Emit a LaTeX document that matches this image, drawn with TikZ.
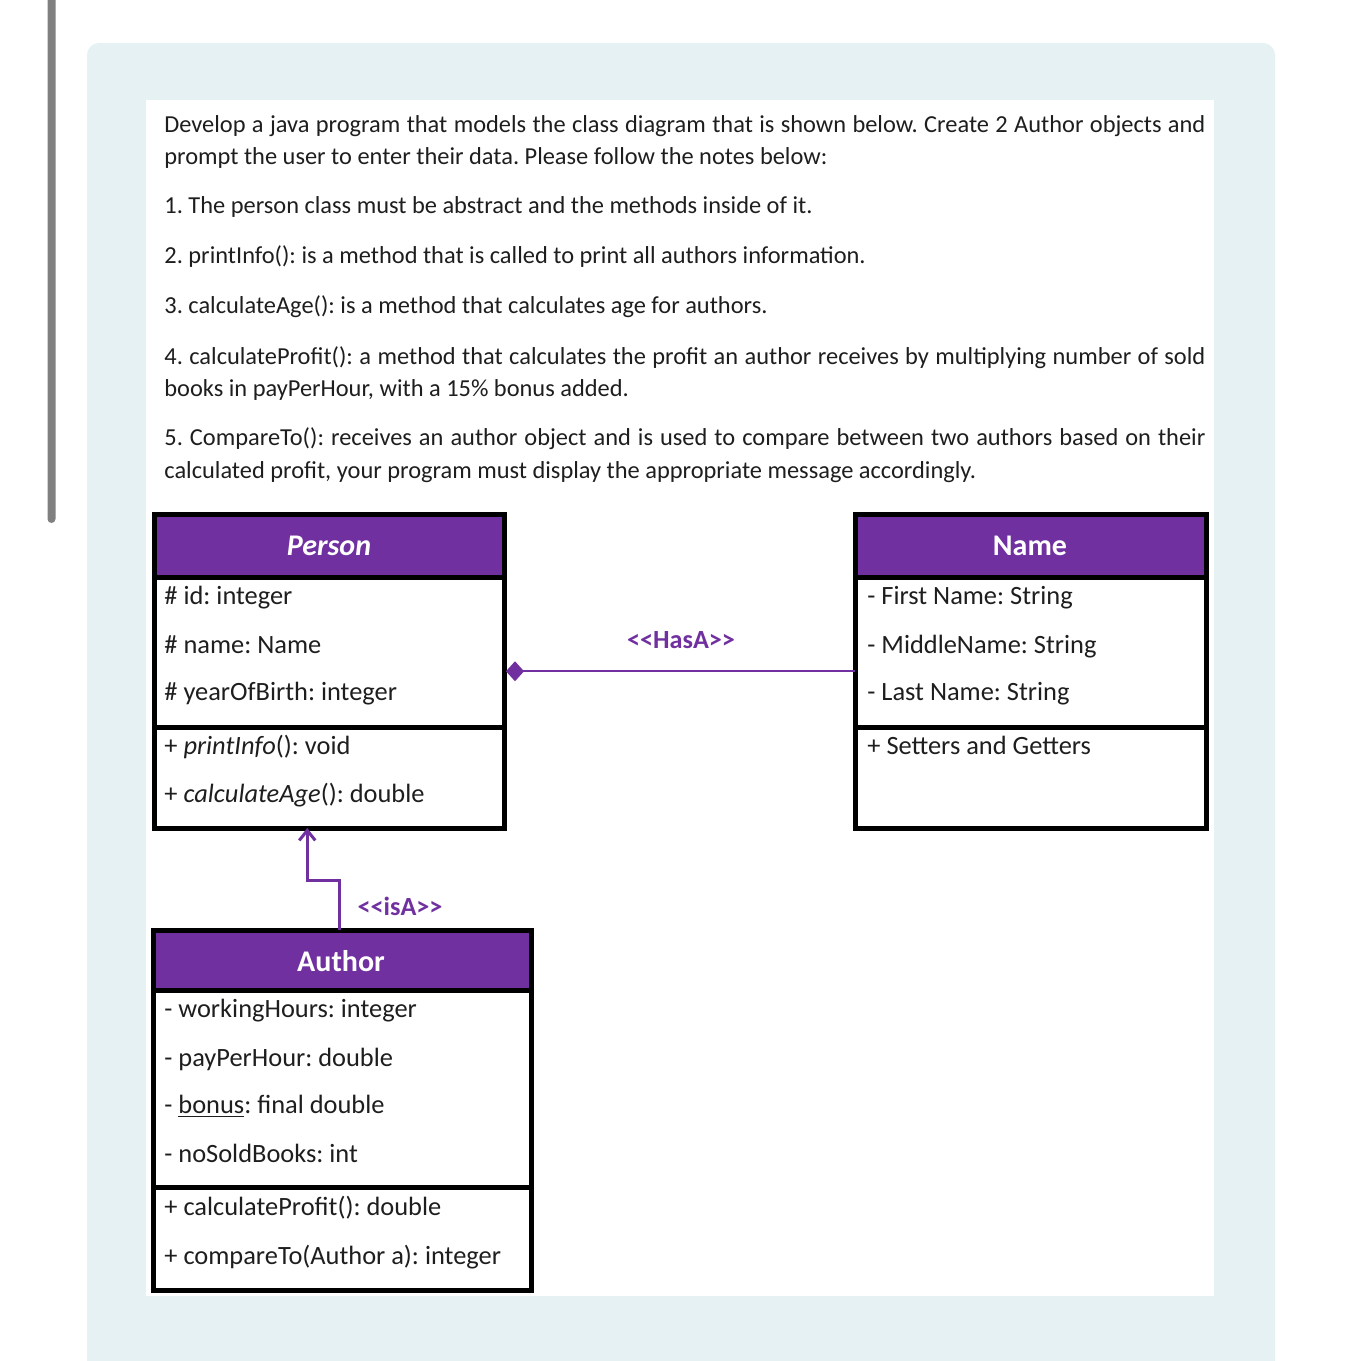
\documentclass[tikz,border=0pt]{standalone}
\usepackage{fontspec}
\setmainfont{Carlito}
\usetikzlibrary{arrows.meta}
\definecolor{umlpurple}{HTML}{7030A0}
\definecolor{panelbg}{HTML}{E6F1F4}
\definecolor{txt}{HTML}{1E1E1E}
\definecolor{bargray}{HTML}{808080}
\frenchspacing
\begin{document}
\begin{tikzpicture}[x=0.5pt,y=-0.5pt,
  body/.style={inner sep=0pt, anchor=base west, text=txt, font=\fontsize{12.2pt}{14pt}\selectfont},
  member/.style={inner sep=0pt, anchor=base west, text=txt, font=\fontsize{13.2pt}{15pt}\selectfont},
  head/.style={inner sep=0pt, text=white, font=\fontsize{15pt}{17pt}\selectfont\bfseries},
  umlbox/.style={draw=black, line width=2.5pt, inner sep=0pt, outer sep=0pt},
  rel/.style={inner sep=0pt, text=umlpurple, font=\fontsize{13.1pt}{15pt}\selectfont\bfseries},
  sepline/.style={black, line width=2.5pt},
  hasa/.style={umlpurple, line width=1pt, -{Diamond[length=9pt,width=10pt]}},
  isa/.style={umlpurple, line width=1.5pt, -{Straight Barb[length=5pt,width=8pt]}}
]
\useasboundingbox (0,0) rectangle (1361,1361);
\begin{scope}
\clip (0,0) rectangle (1361,1361);
\fill[white] (0,0) rectangle (1361,1361);
\fill[bargray, rounded corners=2pt] (47.5,-10) rectangle (55.5,523);
\fill[panelbg, rounded corners=6pt] (87,43) rectangle (1275,1400);
\fill[white] (146,100) rectangle (1214,1296);
\end{scope}

% text
\node[body] (t1) at (164,132) {\hbox to 520.5pt{Develop a java program that models the class diagram that is shown below. Create 2 Author objects and}};
\node[body] (t2) at (164,164) {prompt the user to enter their data. Please follow the notes below:};
\node[body] (t3) at (164,213) {1. The person class must be abstract and the methods inside of it.};
\node[body] (t4) at (164,263) {2. printInfo(): is a method that is called to print all authors information.};
\node[body] (t5) at (164,313) {3. calculateAge(): is a method that calculates age for authors.};
\node[body] (t6) at (164,364) {\hbox to 520.5pt{4. calculateProfit(): a method that calculates the profit an author receives by multiplying number of sold}};
\node[body] (t7) at (164,396) {books in payPerHour, with a 15\% bonus added.};
\node[body] (t8) at (164,445) {\hbox to 520.5pt{5. CompareTo(): receives an author object and is used to compare between two authors based on their}};
\node[body] (t9) at (164,478) {calculated profit, your program must display the appropriate message accordingly.};

% header fills
\fill[umlpurple] (154,514.5) rectangle (504.5,577);
\fill[umlpurple] (855,514.5) rectangle (1206,577);
\fill[umlpurple] (153,930) rectangle (531,990);

% boxes
\node[umlbox, minimum width=175.25pt, minimum height=156.75pt] (person) at (329.25,671.25) {};
\node[umlbox, minimum width=175.5pt, minimum height=156.75pt] (name) at (1030.5,671.25) {};
\node[umlbox, minimum width=189pt, minimum height=180.25pt] (author) at (342,1110.25) {};

% separators
\draw[sepline] (154,577) -- (504.5,577);
\draw[sepline] (154,727) -- (504.5,727);
\draw[sepline] (855,577) -- (1206,577);
\draw[sepline] (855,727) -- (1206,727);
\draw[sepline] (153,990) -- (531,990);
\draw[sepline] (153,1187.5) -- (531,1187.5);

% headers
\node[head] (personhead) at (329,546) {\itshape Person};
\node[head] (namehead) at (1030,546) {Name};
\node[head] (authorhead) at (341,961) {Author};

% Person members
\node[member] (p1) at (164,604) {\# id: integer};
\node[member] (p2) at (164,653) {\# name: Name};
\node[member] (p3) at (164,700) {\# yearOfBirth: integer};
\node[member] (p4) at (164,754) {+ \textit{printInfo}(): void};
\node[member] (p5) at (164,802) {+ \textit{calculateAge}(): double};

% Name members
\node[member] (n1) at (867,604) {- First Name: String};
\node[member] (n2) at (867,653) {- MiddleName: String};
\node[member] (n3) at (867,700) {- Last Name: String};
\node[member] (n4) at (867,754) {+ Setters and Getters};

% Author members
\node[member] (a1) at (164,1017) {- workingHours: integer};
\node[member] (a2) at (164,1066) {- payPerHour: double};
\node[member] (a3) at (164,1113) {- \underline{bonus}: final double};
\node[member] (a4) at (164,1162) {- noSoldBooks: int};
\node[member] (a5) at (164,1215) {+ calculateProfit(): double};
\node[member] (a6) at (164,1264) {+ compareTo(Author a): integer};

% relations
\draw[hasa] (name.west) -- ([xshift=0.75pt]person.east);
\node[rel] (hasalabel) at (681,640) {<\kern0pt<HasA>\kern0pt>};
\draw[isa] ([xshift=-1.5pt]author.north) -- ++(0,-50) -| ([xshift=-11pt]person.south);
\node[rel] (isalabel) at (400,906) {<\kern0pt<isA>\kern0pt>};
\end{tikzpicture}
\end{document}
